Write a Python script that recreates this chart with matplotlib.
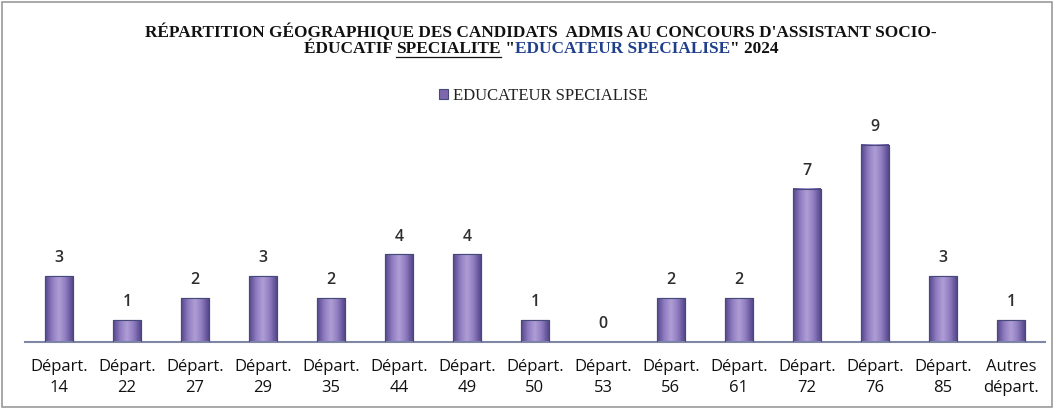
import matplotlib
matplotlib.use("Agg")
import matplotlib.pyplot as plt
import numpy as np
from matplotlib.colors import LinearSegmentedColormap
from matplotlib.patches import Rectangle

categories = ["Départ.\n14", "Départ.\n22", "Départ.\n27", "Départ.\n29", "Départ.\n35",
              "Départ.\n44", "Départ.\n49", "Départ.\n50", "Départ.\n53", "Départ.\n56",
              "Départ.\n61", "Départ.\n72", "Départ.\n76", "Départ.\n85", "Autres\ndépart."]
values = [3, 1, 2, 3, 2, 4, 4, 1, 0, 2, 2, 7, 9, 3, 1]
series_name = "EDUCATEUR SPECIALISE"

W, H = 1056, 409
fig = plt.figure(figsize=(W / 100, H / 100), dpi=100)
fig.patch.set_facecolor("white")

# outer frame
fig.add_artist(Rectangle((2 / W, 2 / H), (W - 6) / W, (H - 4) / H, transform=fig.transFigure,
                         fill=False, edgecolor="#9a9a9a", linewidth=1.2))

ax = fig.add_axes([25 / W, 67 / H, 1020 / W, 219 / H])
x = np.arange(len(categories))
bar_color = "#7e68ad"
bars = ax.bar(x, values, width=0.40, color=bar_color, edgecolor="#454a78", linewidth=0.8,
              label=series_name, zorder=2)

# cylinder-like shading
cmap = LinearSegmentedColormap.from_list("cyl", ["#55478a", "#8f7bc0", "#b09fd6", "#8f7bc0", "#55478a"])
grad = np.linspace(0, 1, 64).reshape(1, -1)
for b in bars:
    h = b.get_height()
    if h <= 0:
        continue
    ax.imshow(grad, cmap=cmap, aspect="auto", zorder=2.5,
              extent=(b.get_x(), b.get_x() + b.get_width(), 0, h), interpolation="bicubic")
    ax.add_patch(Rectangle((b.get_x(), 0), b.get_width(), h, fill=False,
                           edgecolor="#454a78", linewidth=0.8, zorder=3))

for xi, v in zip(x, values):
    ax.text(xi, v + 0.45, str(v), ha="center", va="bottom", fontsize=11.5,
            family="Open Sans", fontweight="semibold", color="#2e2e2e")

ax.set_xlim(-0.5, len(categories) - 0.5)
ax.set_ylim(0, 10)
ax.set_xticks(x)
ax.set_xticklabels(categories, fontsize=12, family="Open Sans", color="#111111", linespacing=1.45)
ax.tick_params(axis="x", length=0, pad=12)
ax.set_yticks([])
for s in ["left", "right", "top"]:
    ax.spines[s].set_visible(False)
ax.spines["bottom"].set_color("#7f86a6")
ax.spines["bottom"].set_linewidth(1.5)
ax.set_facecolor("none")

# title
serif = "Liberation Serif"
tsize = 12.4
fig.text(541 / W, 1 - 32 / H,
         "RÉPARTITION GÉOGRAPHIQUE DES CANDIDATS  ADMIS AU CONCOURS D'ASSISTANT SOCIO-",
         ha="center", va="center", fontsize=tsize, family=serif, fontweight="bold", color="#111111")

pieces = [("ÉDUCATIF ", "#111111", False), ("SPECIALITE", "#111111", True), (" \"", "#111111", False),
          ("EDUCATEUR SPECIALISE", "#1f3f8a", False), ("\" 2024", "#111111", False)]
renderer = fig.canvas.get_renderer()
texts = []
for s, c, u in pieces:
    t = fig.text(0, 1 - 49 / H, s, ha="left", va="center", fontsize=tsize, family=serif,
                 fontweight="bold", color=c)
    texts.append((t, u))
widths = [t.get_window_extent(renderer).width for t, _ in texts]
total = sum(widths)
cur = 541 - total / 2
for (t, u), w in zip(texts, widths):
    t.set_x(cur / W)
    if u:
        fig.add_artist(plt.Line2D([cur / W, (cur + w) / W], [1 - 57 / H, 1 - 57 / H],
                                  transform=fig.transFigure, color="#111111", linewidth=0.9))
    cur += w

# legend
leg = fig.legend(handles=[bars], labels=[series_name], loc="center", bbox_to_anchor=(543 / W, 1 - 96 / H),
                 frameon=False, prop={"family": serif, "size": 12}, handlelength=0.55, handleheight=0.55,
                 handletextpad=0.3, labelcolor="#222222")

fig.savefig("out.png", dpi=100)
